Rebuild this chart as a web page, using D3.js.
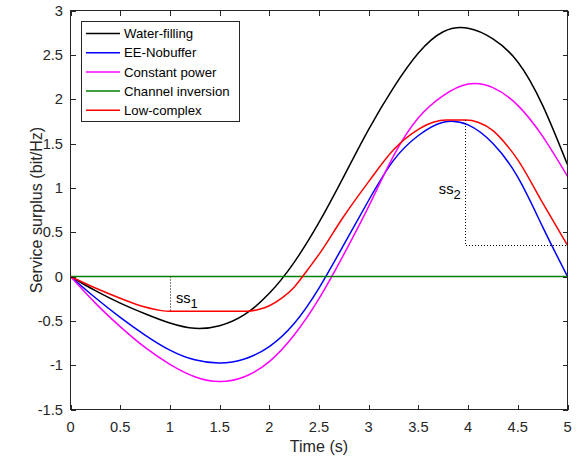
<!DOCTYPE html>
<html>
<head>
<meta charset="utf-8">
<script src="https://cdn.jsdelivr.net/npm/d3@7"></script>
<style>
  body { margin: 0; background: #fff; }
  text { font-family: Arial, "Liberation Sans", Helvetica, sans-serif; fill: #262626; }
</style>
</head>
<body>
<svg id="chart" width="583" height="464"></svg>
<script>
// Sample times (s) shared by the smooth curves
const time = [0, 0.25, 0.5, 0.75, 1, 1.25, 1.5, 1.75, 2, 2.25, 2.5, 2.75, 3, 3.25, 3.5, 3.75, 4, 4.25, 4.5, 4.75, 5];

// Service surplus (bit/Hz) for each scheme
const waterFilling  = [0, -0.16, -0.30, -0.42, -0.525, -0.585, -0.555, -0.43, -0.19, 0.16, 0.61, 1.13, 1.66, 2.13, 2.52, 2.76, 2.80, 2.68, 2.42, 1.93, 1.26];
const eeNobuffer    = [0, -0.24, -0.46, -0.66, -0.83, -0.94, -0.975, -0.93, -0.79, -0.53, -0.13, 0.36, 0.86, 1.31, 1.59, 1.74, 1.71, 1.50, 1.12, 0.56, 0];
const constantPower = [0, -0.30, -0.565, -0.80, -0.99, -1.13, -1.185, -1.13, -0.96, -0.66, -0.25, 0.25, 0.79, 1.36, 1.79, 2.04, 2.17, 2.13, 1.93, 1.58, 1.13];
const channelInv    = [0, 0, 0, 0, 0, 0, 0, 0, 0, 0, 0, 0, 0, 0, 0, 0, 0, 0, 0, 0, 0];

// Low-complex scheme has flat stretches, so it carries its own breakpoints
const lowComplexTime = [0, 0.25, 0.5, 0.75, 0.9, 1.0, 1.4, 1.77, 1.9, 2.0, 2.125, 2.25, 2.375, 2.5, 2.75, 3.0, 3.25, 3.5, 3.65, 3.78, 3.98, 4.1, 4.25, 4.375, 4.5, 4.75, 5];
const lowComplex     = [0, -0.13, -0.245, -0.345, -0.382, -0.392, -0.392, -0.392, -0.37, -0.33, -0.245, -0.12, 0.06, 0.25, 0.68, 1.07, 1.43, 1.66, 1.74, 1.765, 1.765, 1.74, 1.645, 1.50, 1.315, 0.83, 0.35];

const seriesNames  = ["Water-filling", "EE-Nobuffer", "Constant power", "Channel inversion", "Low-complex"];
const seriesColors = ["#000000", "#0000ff", "#ff00ff", "#008000", "#ff0000"];

const xTicks = [0, 0.5, 1, 1.5, 2, 2.5, 3, 3.5, 4, 4.5, 5];
const yTicks = [-1.5, -1, -0.5, 0, 0.5, 1, 1.5, 2, 2.5, 3];

// Surplus-gap annotations: ss1 where the trough flattens, ss2 at the peak
const ss1Time = 1.0;
const ss2Time = 3.966;

const svg = d3.select("#chart");
const axisColor = "#262626";

const x = d3.scaleLinear().domain([0, 5]).range([70.5, 567.5]);
const y = d3.scaleLinear().domain([-1.5, 3]).range([409.5, 10.5]);

const [x0, x1] = x.range();
const [y0, y1] = y.range();

// Curves
const smoothLine = d3.line().curve(d3.curveNatural);
const kinkLine = d3.line().curve(d3.curveMonotoneX);

const series = [
  { values: waterFilling, t: time, gen: smoothLine },
  { values: eeNobuffer, t: time, gen: smoothLine },
  { values: constantPower, t: time, gen: smoothLine },
  { values: channelInv, t: time, gen: smoothLine },
  { values: lowComplex, t: lowComplexTime, gen: kinkLine }
];

const plot = svg.append("g");
plot.append("defs").append("clipPath").attr("id", "clip")
  .append("rect").attr("x", x0).attr("y", y1).attr("width", x1 - x0).attr("height", y0 - y1);

const lines = plot.append("g").attr("clip-path", "url(#clip)");
series.forEach((s, i) => {
  const pts = s.t.map((t, k) => [x(t), y(s.values[k])]);
  lines.append("path")
    .attr("d", s.gen(pts))
    .attr("fill", "none")
    .attr("stroke", seriesColors[i])
    .attr("stroke-width", 1.5)
    .attr("stroke-linejoin", "round");
});

// Dotted guides for the surplus gaps
const ss1Level = lowComplex[lowComplexTime.indexOf(ss1Time)];
const ss2Peak = lowComplex[lowComplexTime.indexOf(3.98)];
const endLevel = lowComplex[lowComplex.length - 1];
const dotted = plot.append("g")
  .attr("stroke", "#000")
  .attr("stroke-width", 1)
  .attr("stroke-dasharray", "1,2")
  .attr("fill", "none");
dotted.append("line")
  .attr("x1", Math.round(x(ss1Time)) + 0.5).attr("x2", Math.round(x(ss1Time)) + 0.5)
  .attr("y1", y(0)).attr("y2", y(ss1Level));
dotted.append("path")
  .attr("d", `M${Math.round(x(ss2Time)) + 0.5},${y(ss2Peak)}V${Math.round(y(endLevel)) + 0.5}H${x1}`);

function subLabel(px, py, base, sub, anchor) {
  const t = plot.append("text")
    .attr("x", px).attr("y", py)
    .attr("text-anchor", anchor)
    .style("font-size", "14.67px")
    .style("fill", "#000");
  t.append("tspan").text(base);
  t.append("tspan").attr("dy", 5).style("font-size", "13px").text(sub);
}
subLabel(x(ss1Time) + 6, 303, "ss", "1", "start");
subLabel(x(ss2Time) - 4, 194, "ss", "2", "end");

// Axes box
const axes = svg.append("g")
  .attr("stroke", axisColor)
  .attr("stroke-width", 1)
  .attr("shape-rendering", "crispEdges");
axes.append("rect")
  .attr("x", x0).attr("y", y1)
  .attr("width", x1 - x0).attr("height", y0 - y1)
  .attr("fill", "none");

const tickLen = 5;
xTicks.forEach(v => {
  const px = Math.round(x(v)) + 0.5;
  axes.append("line").attr("x1", px).attr("x2", px).attr("y1", y0).attr("y2", y0 - tickLen);
  axes.append("line").attr("x1", px).attr("x2", px).attr("y1", y1).attr("y2", y1 + tickLen);
});
yTicks.forEach(v => {
  const py = Math.round(y(v)) + 0.5;
  axes.append("line").attr("x1", x0).attr("x2", x0 + tickLen).attr("y1", py).attr("y2", py);
  axes.append("line").attr("x1", x1).attr("x2", x1 - tickLen).attr("y1", py).attr("y2", py);
});

// Tick labels
svg.append("g").selectAll("text").data(xTicks).join("text")
  .attr("x", d => x(d))
  .attr("y", 432)
  .attr("text-anchor", "middle")
  .style("font-size", "14.67px")
  .text(d => String(d));

svg.append("g").selectAll("text").data(yTicks).join("text")
  .attr("x", 63)
  .attr("y", d => y(d) + 5.2)
  .attr("text-anchor", "end")
  .style("font-size", "14.67px")
  .text(d => String(d));

// Axis titles
svg.append("text")
  .attr("x", (x0 + x1) / 2)
  .attr("y", 452)
  .attr("text-anchor", "middle")
  .style("font-size", "16.1px")
  .text("Time (s)");

svg.append("text")
  .attr("transform", `translate(36,${(y0 + y1) / 2}) rotate(-90)`)
  .attr("text-anchor", "middle")
  .attr("dy", "0.35em")
  .style("font-size", "16.1px")
  .text("Service surplus (bit/Hz)");

// Legend
const legend = svg.append("g");
legend.append("rect")
  .attr("x", 81.5).attr("y", 21.5)
  .attr("width", 158).attr("height", 100)
  .attr("fill", "#fff")
  .attr("stroke", axisColor)
  .attr("stroke-width", 1)
  .attr("shape-rendering", "crispEdges");
seriesNames.forEach((name, i) => {
  const ly = 33.5 + i * 19.2;
  legend.append("line")
    .attr("x1", 86).attr("x2", 120)
    .attr("y1", ly).attr("y2", ly)
    .attr("stroke", seriesColors[i])
    .attr("stroke-width", 1.5);
  legend.append("text")
    .attr("x", 124)
    .attr("y", ly + 4.6)
    .style("font-size", "13.2px")
    .style("fill", "#000")
    .text(name);
});
</script>
</body>
</html>
